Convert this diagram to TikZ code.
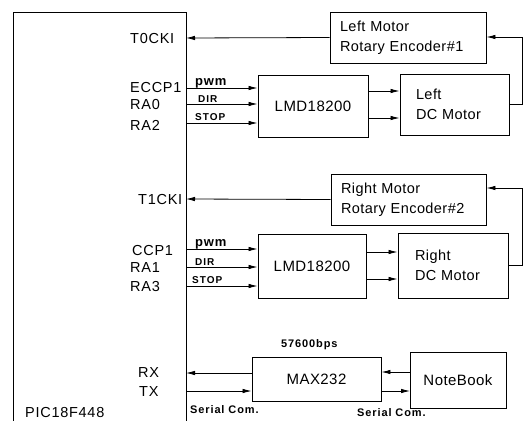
\documentclass[tikz,border=0pt]{standalone}
\usepackage{fontspec}
\setmainfont{Liberation Sans}
\usetikzlibrary{arrows.meta}
\begin{document}
\begin{tikzpicture}[x=1pt,y=-1pt,
  pin/.style={font=\fontsize{14.5}{16}\selectfont\addfontfeature{LetterSpace=5}, inner sep=0pt, anchor=base west},
  sig/.style={font=\fontsize{10}{11}\selectfont\bfseries\addfontfeature{LetterSpace=10}, inner sep=0pt, anchor=base west},
  pwmsig/.style={sig, font=\fontsize{13}{13}\selectfont\bfseries\addfontfeature{LetterSpace=6}},
  note/.style={font=\fontsize{11}{12}\selectfont\bfseries\addfontfeature{LetterSpace=8}, inner sep=0pt, anchor=base west},
  blk/.style={draw, line width=0.9pt, inner sep=0pt, align=center, font=\fontsize{15}{20}\selectfont\addfontfeature{LetterSpace=3}},
  lblk/.style={draw, line width=0.9pt, align=left, inner ysep=0pt, font=\fontsize{14.5}{20}\selectfont\addfontfeature{LetterSpace=3}},
  arr/.style={-{Latex[length=9pt,width=4.5pt]}, line width=0.8pt}]
\useasboundingbox (0,0) rectangle (526,420);
% PIC
\node[draw, line width=0.9pt, minimum width=173pt, minimum height=430pt, inner sep=0pt] (pic) at (99.5,227) {};
\node[pin] (picname) at (25,417) {PIC18F448};
% pin labels
\node[pin] (lt0) at (130,44) {T0CKI};
\node[pin] (leccp) at (130,92) {ECCP1};
\node[pin] (lra0) at (130,109) {RA0};
\node[pin] (lra2) at (130,130) {RA2};
\node[pin] (lt1) at (138,204) {T1CKI};
\node[pin] (lccp) at (132,255) {CCP1};
\node[pin] (lra1) at (130,272) {RA1};
\node[pin] (lra3) at (130,291) {RA3};
\node[pin] (lrx) at (138,377) {RX};
\node[pin] (ltx) at (139,396) {TX};
% pin coordinates on PIC edge
\coordinate (t0) at (186,38);
\coordinate (p1) at (186,88);
\coordinate (d1) at (186,104);
\coordinate (s1) at (186,123);
\coordinate (t1) at (186,199);
\coordinate (p2) at (186,249);
\coordinate (d2) at (186,267);
\coordinate (s2) at (186,286);
\coordinate (rx) at (186,373);
\coordinate (tx) at (186,391);
% blocks
\node[lblk, text width=136pt, inner xsep=10pt, minimum height=51pt] (enc1) at (408,37.5) {Left Motor\\Rotary Encoder\#1};
\node[blk, minimum width=110pt, minimum height=62pt] (lmd1) at (313,106) {LMD18200};
\node[lblk, text width=77pt, inner xsep=16pt, minimum height=61pt] (mot1) at (454.5,104.5) {Left\\DC Motor};
\node[lblk, text width=135pt, inner xsep=10pt, minimum height=51pt] (enc2) at (408.5,199.5) {Right Motor\\Rotary Encoder\#2};
\node[blk, minimum width=108pt, minimum height=64pt] (lmd2) at (312,266) {LMD18200};
\node[lblk, text width=76pt, inner xsep=17pt, minimum height=65pt] (mot2) at (453,265.5) {Right\\DC Motor};
\node[blk, minimum width=129pt, minimum height=44pt] (max) at (316.5,379) {MAX232};
\node[blk, minimum width=96pt, minimum height=56pt] (nb) at (458,380) {NoteBook};
% encoder to PIC
\draw[arr] (enc1.west) -- (t0);
\draw[arr] (enc2.west) -- (t1);
% signals 1
\draw[arr] (p1) -- (p1 -| lmd1.west);
\draw[arr] (d1) -- (d1 -| lmd1.west);
\draw[arr] (s1) -- (s1 -| lmd1.west);
\node[pwmsig] (pwm1) at (195,85) {pwm};
\node[sig] (dir1) at (198,102) {DIR};
\node[sig] (stop1) at (195,120) {STOP};
% signals 2
\draw[arr] (p2) -- (p2 -| lmd2.west);
\draw[arr] (d2) -- (d2 -| lmd2.west);
\draw[arr] (s2) -- (s2 -| lmd2.west);
\node[pwmsig] (pwm2) at (195,246) {pwm};
\node[sig] (dir2) at (195,265) {DIR};
\node[sig] (stop2) at (192,283) {STOP};
% driver to motor
\coordinate (a1) at (368,91);
\coordinate (b1) at (368,118);
\draw[arr] (a1) -- (a1 -| mot1.west);
\draw[arr] (b1) -- (b1 -| mot1.west);
\coordinate (a2) at (366,252);
\coordinate (b2) at (366,279);
\draw[arr] (a2) -- (a2 -| mot2.west);
\draw[arr] (b2) -- (b2 -| mot2.west);
% feedback
\coordinate (f1) at (522,37);
\draw[arr] (mot1.east) -| (f1) -- (f1 -| enc1.east);
\coordinate (f2) at (522,188);
\draw[arr] (mot2.east) -| (f2) -- (f2 -| enc2.east);
% serial
\draw[arr] (rx -| max.west) -- (rx);
\draw[arr] (tx) -- (tx -| max.west);
\coordinate (n1) at (410,372);
\coordinate (n2) at (410,391);
\draw[arr] (n1) -- (n1 -| max.east);
\draw[arr] (n2 -| max.east) -- (n2);
\node[note] (bps) at (281,347) {57600bps};
\node[note] (ser1) at (190,413) {Serial Com.};
\node[note] (ser2) at (357,416) {Serial Com.};
\end{tikzpicture}
\end{document}
